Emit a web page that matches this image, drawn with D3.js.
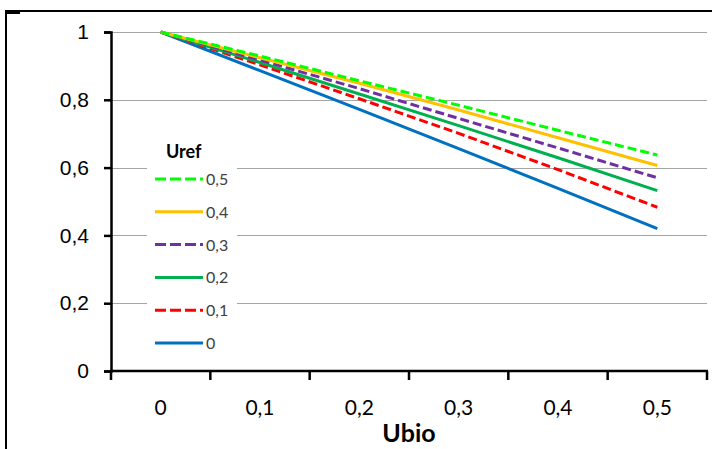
<!DOCTYPE html>
<html>
<head>
<meta charset="utf-8">
<script src="https://cdn.jsdelivr.net/npm/d3@7"></script>
<style>
    body { margin: 0; background: white; }
    svg { display: block; font-family: Lato, "Open Sans", sans-serif; }
</style>
</head>
<body>
<svg width="712" height="449"></svg>
<script>
// I. Données
let ubio = [0, 0.1, 0.2, 0.3, 0.4, 0.5];
let etiquettesX = ["0", "0,1", "0,2", "0,3", "0,4", "0,5"];
let ticksY = [0, 0.2, 0.4, 0.6, 0.8, 1];
let etiquettesY = ["0", "0,2", "0,4", "0,6", "0,8", "1"];

let uref = ["0,5", "0,4", "0,3", "0,2", "0,1", "0"];
let couleurs = ["#00FF00", "#FFC000", "#7030A0", "#00B050", "#FF0000", "#0070C0"];
let pointilles = [true, false, true, false, true, false];

let serie05 = [1, 0.929, 0.856, 0.784, 0.710, 0.637];
let serie04 = [1, 0.924, 0.849, 0.770, 0.688, 0.606];
let serie03 = [1, 0.917, 0.833, 0.745, 0.658, 0.570];
let serie02 = [1, 0.910, 0.817, 0.724, 0.629, 0.532];
let serie01 = [1, 0.903, 0.803, 0.701, 0.594, 0.483];
let serie00 = [1, 0.886, 0.772, 0.656, 0.539, 0.420];
let series = [serie05, serie04, serie03, serie02, serie01, serie00];

// II. Dessin
let svg = d3.select("svg");

// cadre
svg.append("rect")
    .attr("x", 6).attr("y", 11)
    .attr("width", 720).attr("height", 450)
    .attr("fill", "white")
    .attr("stroke", "black")
    .attr("stroke-width", 2);
svg.append("line")
    .attr("x1", 6).attr("x2", 20)
    .attr("y1", 12.5).attr("y2", 12.5)
    .attr("stroke", "black").attr("stroke-width", 3);

// échelles
let x = d3.scaleBand().domain(etiquettesX).range([111, 707]).paddingInner(0).paddingOuter(0);
let y = d3.scaleLinear().domain([0, 1]).range([371, 32]);
let cx = i => x(etiquettesX[i]) + x.bandwidth() / 2;

// grille
svg.append("g")
    .selectAll("line")
    .data(ticksY.filter(d => d > 0))
    .enter()
    .append("line")
    .attr("x1", 111).attr("x2", 707)
    .attr("y1", d => Math.round(y(d)) + 0.5)
    .attr("y2", d => Math.round(y(d)) + 0.5)
    .attr("stroke", "#a6a6a6")
    .attr("stroke-width", 1);

// axe Y
let axeY = svg.append("g")
    .attr("transform", "translate(111,0)")
    .call(d3.axisLeft(y).tickValues(ticksY).tickSize(7).tickFormat((d, i) => etiquettesY[i]));
axeY.select(".domain").attr("stroke-width", 2.5);
axeY.selectAll(".tick line").attr("stroke-width", 2.5);
axeY.selectAll("text")
    .attr("x", -22)
    .attr("fill", "#000")
    .style("font-size", "21px");

// axe X (ticks entre les catégories)
let bornes = d3.range(etiquettesX.length + 1).map(i => 111 + i * x.bandwidth());
let axeX = svg.append("g");
axeX.append("line")
    .attr("x1", 110).attr("x2", 708)
    .attr("y1", 371).attr("y2", 371)
    .attr("stroke", "black").attr("stroke-width", 2.5);
axeX.selectAll("line.tick")
    .data(bornes)
    .enter()
    .append("line")
    .attr("class", "tick")
    .attr("x1", d => d).attr("x2", d => d)
    .attr("y1", 371).attr("y2", 380)
    .attr("stroke", "black").attr("stroke-width", 2.5);
axeX.selectAll("text")
    .data(etiquettesX)
    .enter()
    .append("text")
    .attr("x", (d, i) => cx(i))
    .attr("y", 415)
    .attr("text-anchor", "middle")
    .style("font-size", "21px")
    .text(d => d);

svg.append("text")
    .attr("x", 409).attr("y", 442)
    .attr("text-anchor", "middle")
    .style("font-size", "25px")
    .style("font-weight", "bold")
    .text("Ubio");

// courbes
let ligne = d3.line()
    .x((d, i) => cx(i))
    .y(d => y(d));

svg.append("g")
    .selectAll("path")
    .data(series.slice().reverse())
    .enter()
    .append("path")
    .attr("d", d => ligne(d))
    .attr("fill", "none")
    .attr("stroke", (d, i) => couleurs[series.length - 1 - i])
    .attr("stroke-width", 3)
    .attr("stroke-linejoin", "round")
    .attr("stroke-dasharray", (d, i) => pointilles[series.length - 1 - i] ? "9,4" : null);

// légende
let legende = svg.append("g");
legende.append("rect")
    .attr("x", 147).attr("y", 133)
    .attr("width", 90).attr("height", 225)
    .attr("fill", "white");
legende.append("text")
    .attr("x", 166).attr("y", 158)
    .style("font-size", "18px")
    .style("font-weight", "bold")
    .text("Uref");

let items = legende.selectAll("g.item")
    .data(uref)
    .enter()
    .append("g")
    .attr("class", "item")
    .attr("transform", (d, i) => "translate(0," + (179 + i * 32.8) + ")");
items.append("line")
    .attr("x1", 155).attr("x2", 203)
    .attr("y1", 0).attr("y2", 0)
    .attr("stroke", (d, i) => couleurs[i])
    .attr("stroke-width", 3)
    .attr("stroke-dasharray", (d, i) => pointilles[i] ? "11,4" : null);
items.append("text")
    .attr("x", 206).attr("y", 6)
    .attr("fill", "#404040")
    .style("font-size", "16px")
    .text(d => d);
</script>
</body>
</html>
